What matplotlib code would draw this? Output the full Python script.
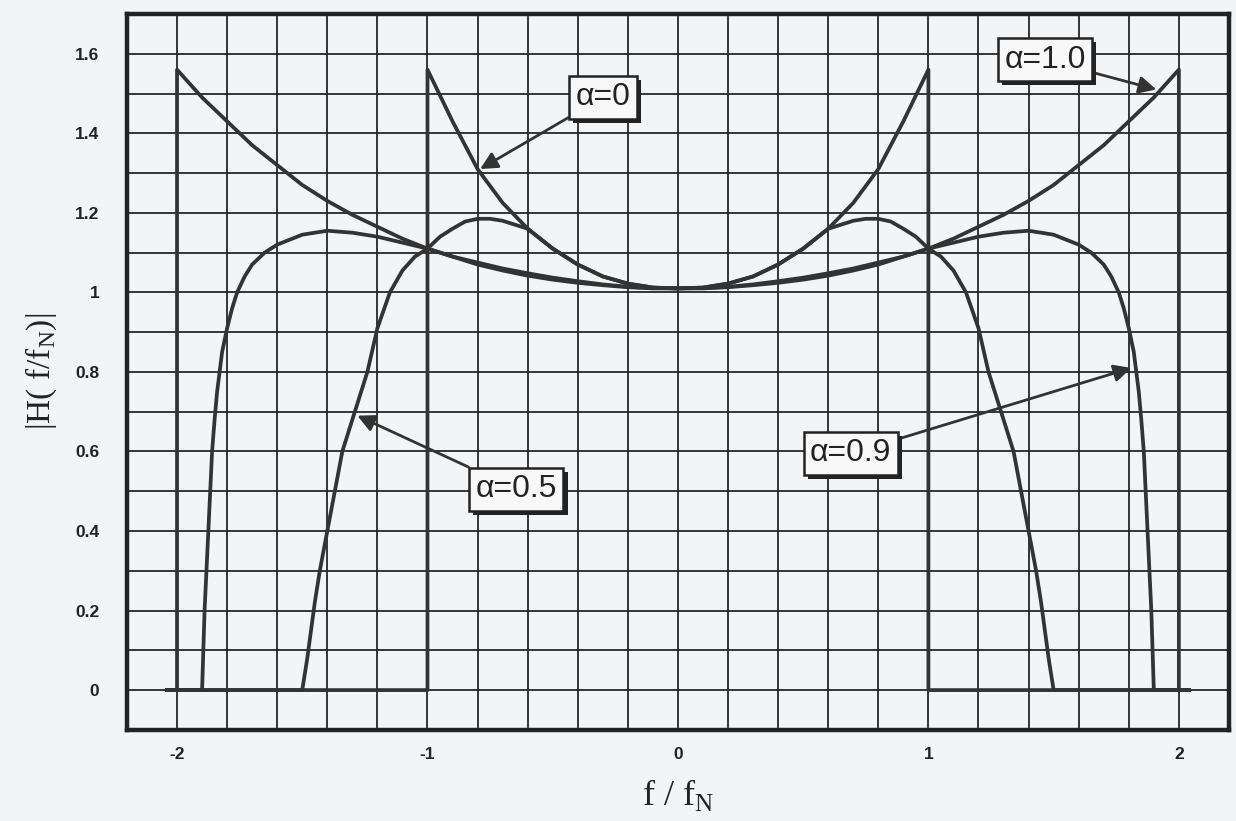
import matplotlib.pyplot as plt
import matplotlib.patheffects as pe
from matplotlib.ticker import MultipleLocator, FixedLocator

plt.rcParams['mathtext.fontset'] = 'custom'
plt.rcParams['mathtext.rm'] = 'Liberation Serif'

# |H(f/fN)|, one curve per roll-off factor
f_a0 = [-2.04, -1.0, -1.0, -0.9, -0.8, -0.7, -0.6, -0.5, -0.4, -0.3, -0.2, -0.1, 0.0,
        0.1, 0.2, 0.3, 0.4, 0.5, 0.6, 0.7, 0.8, 0.9, 1.0, 1.0, 2.04]
h_a0 = [0, 0, 1.56, 1.43, 1.31, 1.225, 1.16, 1.11, 1.07, 1.04, 1.022, 1.012, 1.01,
        1.012, 1.022, 1.04, 1.07, 1.11, 1.16, 1.225, 1.31, 1.43, 1.56, 0, 0]

f_a05 = [-2.04, -1.5, -1.48, -1.465, -1.45, -1.43, -1.40, -1.37, -1.34, -1.29, -1.24, -1.20,
         -1.15, -1.10, -1.05, -1.0, -0.95, -0.9, -0.85, -0.8, -0.75, -0.7, -0.65, -0.6,
         -0.5, -0.4, -0.3, -0.2, -0.1, 0.0, 0.1, 0.2, 0.3, 0.4, 0.5,
         0.6, 0.65, 0.7, 0.75, 0.8, 0.85, 0.9, 0.95, 1.0, 1.05, 1.10, 1.15,
         1.20, 1.24, 1.29, 1.34, 1.37, 1.40, 1.43, 1.45, 1.465, 1.48, 1.5, 2.04]
h_a05 = [0, 0, 0.08, 0.15, 0.22, 0.30, 0.40, 0.50, 0.60, 0.70, 0.80, 0.91,
         1.0, 1.055, 1.09, 1.11, 1.14, 1.16, 1.178, 1.185, 1.185, 1.18, 1.17, 1.16,
         1.11, 1.07, 1.04, 1.022, 1.012, 1.01, 1.012, 1.022, 1.04, 1.07, 1.11,
         1.16, 1.17, 1.18, 1.185, 1.185, 1.178, 1.16, 1.14, 1.11, 1.09, 1.055, 1.0,
         0.91, 0.80, 0.70, 0.60, 0.50, 0.40, 0.30, 0.22, 0.15, 0.08, 0, 0]

f_a09 = [-2.04, -1.9, -1.89, -1.875, -1.86, -1.85, -1.84, -1.82, -1.8, -1.78, -1.76, -1.73,
         -1.7, -1.65, -1.6, -1.5, -1.4, -1.3, -1.2, -1.1, -1.0, -0.9, -0.8, -0.7, -0.6,
         -0.5, -0.4, -0.3, -0.2, -0.1, 0.0, 0.1, 0.2, 0.3, 0.4, 0.5,
         0.6, 0.7, 0.8, 0.9, 1.0, 1.1, 1.2, 1.3, 1.4, 1.5, 1.6, 1.65, 1.7,
         1.73, 1.76, 1.78, 1.8, 1.82, 1.84, 1.85, 1.86, 1.875, 1.89, 1.9, 2.04]
h_a09 = [0, 0, 0.2, 0.4, 0.6, 0.68, 0.75, 0.85, 0.91, 0.96, 1.0, 1.04,
         1.07, 1.10, 1.12, 1.145, 1.155, 1.15, 1.14, 1.125, 1.11, 1.09, 1.07, 1.055, 1.042,
         1.032, 1.024, 1.018, 1.013, 1.01, 1.01, 1.01, 1.013, 1.018, 1.024, 1.032,
         1.042, 1.055, 1.07, 1.09, 1.11, 1.125, 1.14, 1.15, 1.155, 1.145, 1.12, 1.10, 1.07,
         1.04, 1.0, 0.96, 0.91, 0.85, 0.75, 0.68, 0.6, 0.4, 0.2, 0, 0]

f_a1 = [-2.04, -2.0, -2.0, -1.9, -1.8, -1.7, -1.6, -1.5, -1.4, -1.3, -1.2, -1.1, -1.0,
        -0.9, -0.8, -0.7, -0.6, -0.5, -0.4, -0.3, -0.2, -0.1, 0.0, 0.1, 0.2, 0.3, 0.4,
        0.5, 0.6, 0.7, 0.8, 0.9, 1.0, 1.1, 1.2, 1.3, 1.4, 1.5, 1.6, 1.7, 1.8, 1.9,
        2.0, 2.0, 2.04]
h_a1 = [0, 0, 1.56, 1.49, 1.43, 1.37, 1.32, 1.27, 1.23, 1.195, 1.165, 1.135, 1.11,
        1.09, 1.075, 1.06, 1.048, 1.037, 1.028, 1.02, 1.014, 1.011, 1.01, 1.011, 1.014,
        1.02, 1.028, 1.037, 1.048, 1.06, 1.075, 1.09, 1.11, 1.135, 1.165, 1.195, 1.23,
        1.27, 1.32, 1.37, 1.43, 1.49, 1.56, 0, 0]

# label text, label centre, arrow tip
labels = ['α=0', 'α=0.5', 'α=0.9', 'α=1.0']
label_xy = [(-0.30, 1.49), (-0.645, 0.505), (0.69, 0.595), (1.465, 1.585)]
tip_xy = [(-0.79, 1.31), (-1.28, 0.69), (1.81, 0.81), (1.91, 1.51)]

x_ticks = [-2, -1, 0, 1, 2]
y_ticks = [0, 0.2, 0.4, 0.6, 0.8, 1.0, 1.2, 1.4, 1.6]
y_tick_labels = ['0', '0.2', '0.4', '0.6', '0.8', '1', '1.2', '1.4', '1.6']

paper = '#f3f4f6'
ink = '#333333'

fig = plt.figure(figsize=(12.36, 8.21), dpi=100, facecolor=paper)
ax = fig.add_axes([0.1027, 0.111, 0.8916, 0.872], facecolor=paper)

for f, h in [(f_a0, h_a0), (f_a05, h_a05), (f_a09, h_a09), (f_a1, h_a1)]:
    ax.plot(f, h, color=ink, lw=2.7, solid_joinstyle='round', zorder=3)

ax.set_xlim(-2.2, 2.2)
ax.set_ylim(-0.1, 1.7)
ax.xaxis.set_major_locator(FixedLocator(x_ticks))
ax.xaxis.set_minor_locator(MultipleLocator(0.2))
ax.yaxis.set_major_locator(FixedLocator(y_ticks))
ax.yaxis.set_minor_locator(MultipleLocator(0.1))
ax.set_xticklabels([str(t) for t in x_ticks])
ax.set_yticklabels(y_tick_labels)
ax.tick_params(which='both', length=0)
ax.tick_params(axis='x', pad=12)
ax.tick_params(axis='y', pad=20)
for lab in ax.get_xticklabels() + ax.get_yticklabels():
    lab.set_fontfamily('Liberation Sans')
    lab.set_fontweight('bold')
    lab.set_fontsize(12.5)
    lab.set_color('#222222')

ax.set_axisbelow(True)
ax.grid(True, which='both', color='#262626', lw=1.3)
for sp in ax.spines.values():
    sp.set_linewidth(3.2)
    sp.set_color('#222222')

ax.set_xlabel(r'f / f$_\mathrm{N}$', fontfamily='Liberation Serif', fontsize=26, color='#222222')
ax.xaxis.set_label_coords(0.5, -0.066)
ax.set_ylabel(r'|H( f/f$_\mathrm{N}$)|', fontfamily='Liberation Serif', fontsize=24, color='#222222')
ax.yaxis.set_label_coords(-0.062, 0.5)

for text, xy_text, xy_tip in zip(labels, label_xy, tip_xy):
    ann = ax.annotate(text, xy=xy_tip, xytext=xy_text, ha='center', va='center',
                      fontfamily='Liberation Sans', fontsize=23, color='#222222',
                      bbox=dict(boxstyle='square,pad=0.2', fc='#f8f8f8', ec='#222222', lw=1.8),
                      arrowprops=dict(arrowstyle='-|>', color=ink, lw=2.0, mutation_scale=26,
                                      shrinkA=0, shrinkB=0),
                      zorder=5)
    ann.get_bbox_patch().set_path_effects([
        pe.SimplePatchShadow(offset=(3, -3), shadow_rgbFace='#222222', alpha=1.0),
        pe.Normal()])

fig.savefig('out.png', dpi=100, facecolor=paper)
